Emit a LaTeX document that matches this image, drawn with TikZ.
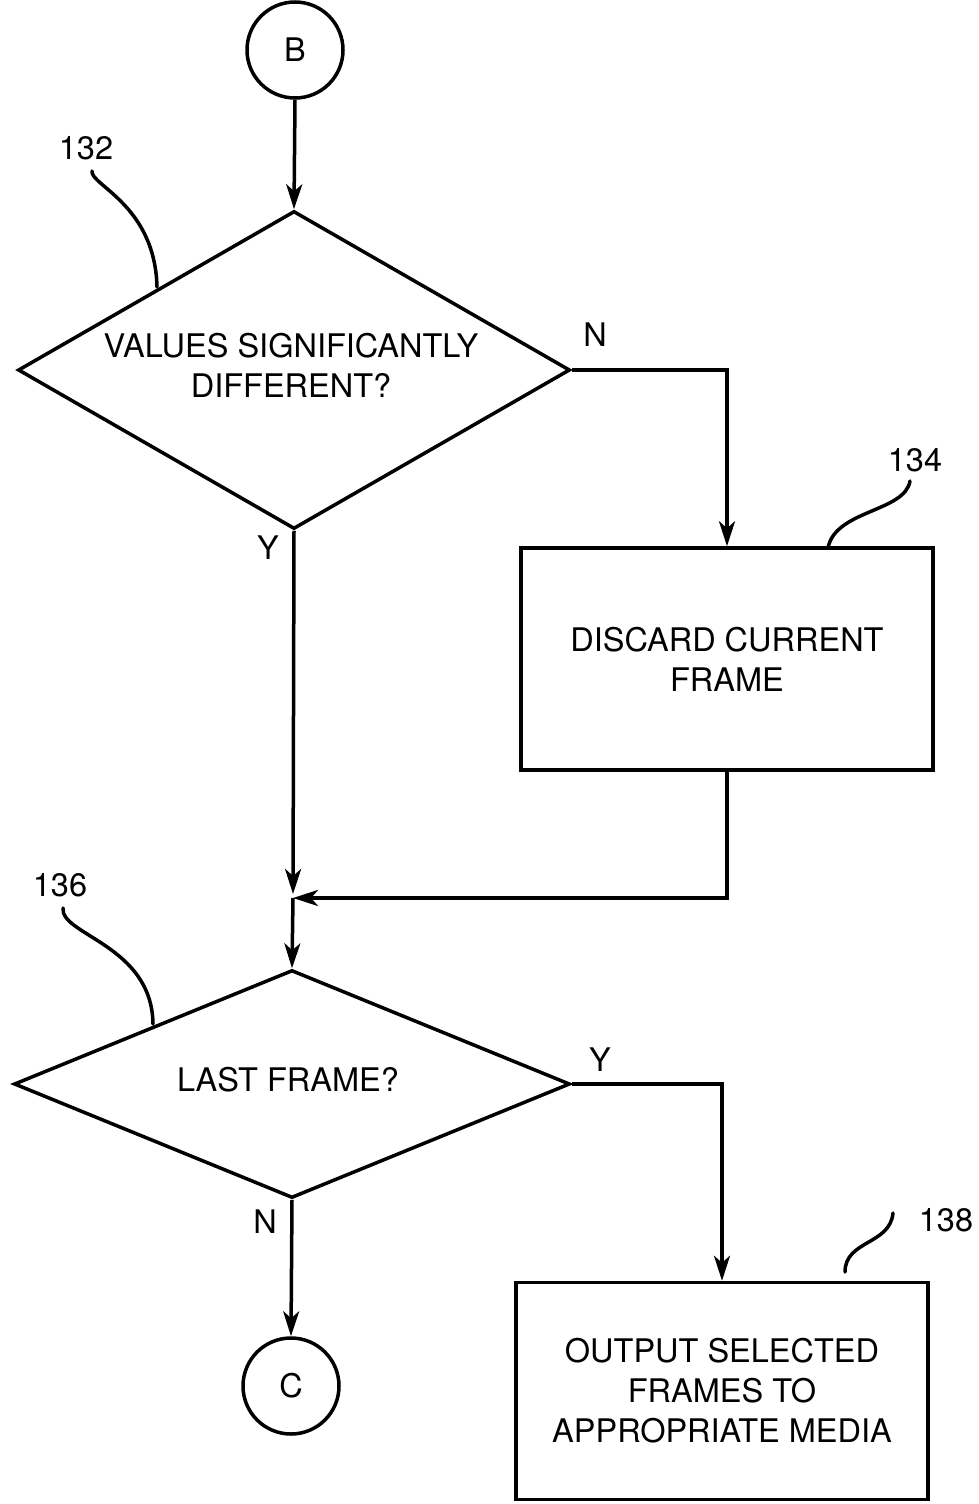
\documentclass[tikz,border=0pt]{standalone}
\usepackage{fontspec}
\setmainfont{TeX Gyre Heros}
\usetikzlibrary{shapes.geometric,arrows.meta}
\begin{document}
\begin{tikzpicture}[x=1pt,y=-1pt,
  every node/.style={font=\fontsize{32.5}{40}\selectfont},
  ln/.style={line width=3.5pt},
  arr/.style={ln,-{Stealth[length=25pt,width=16pt,inset=7pt]}},
  conn/.style={draw,circle,ln,minimum size=96pt,inner sep=0pt},
  dia/.style={draw,diamond,ln,inner sep=0pt,aspect=1},
  stepbox/.style={draw,rectangle,ln,inner sep=0pt,align=center},
  txt/.style={align=center,inner sep=0pt},
  callout/.style={line width=3.5pt,line cap=round}
]
\useasboundingbox (0,0) rectangle (979,1504);
% nodes
\node[conn] (B) at (295,50) {B};
\node[dia,minimum width=552pt,minimum height=318pt] (d1) at (294,370) {};
\node[txt] (t1) at (291,365) {VALUES SIGNIFICANTLY\\DIFFERENT?};
\node[stepbox,minimum width=412pt,minimum height=222pt] (b134) at (727,659) {DISCARD CURRENT\\FRAME};
\coordinate (j) at (293,898);
\node[dia,minimum width=556pt,minimum height=228pt] (d2) at (292,1084) {};
\node[txt] (t2) at (288,1080) {LAST FRAME?};
\node[stepbox,minimum width=412pt,minimum height=217pt] (b138) at (722,1391) {OUTPUT SELECTED\\FRAMES TO\\APPROPRIATE MEDIA};
\node[conn] (C) at (291,1386) {C};
% labels
\node[txt] (n1) at (595,335) {N};
\node[txt] (y1) at (268,548) {Y};
\node[txt] (y2) at (600,1060) {Y};
\node[txt] (n2) at (265,1222) {N};
\node[txt] (l132) at (86,148) {132};
\node[txt] (l134) at (915,460) {134};
\node[txt] (l136) at (60,885) {136};
\node[txt] (l138) at (946,1220) {138};
% connectors
\draw[arr] (B.south) -- (d1.north);
\draw[arr] (d1.east) -| (b134.north);
\draw[arr,shorten >=4pt] (d1.south) -- (j);
\draw[arr] (b134.south) |- (j);
\draw[arr] (j) -- (d2.north);
\draw[arr] (d2.east) -| (b138.north);
\draw[arr] (d2.south) -- (C.north);
% callouts
\coordinate (c132a) at (92,171);
\coordinate (c132b) at (157,287);
\draw[callout] (c132a) .. controls (90,185) and (155,205) .. (c132b);
\coordinate (c136a) at (63,908);
\coordinate (c136b) at (153,1024);
\draw[callout] (c136a) .. controls (60,935) and (152,945) .. (c136b);
\coordinate (c134a) at (910,481);
\coordinate (c134b) at (828,548);
\draw[callout] (c134a) .. controls (905,512) and (835,510) .. (c134b);
\coordinate (c138a) at (893,1213);
\coordinate (c138b) at (845,1272);
\draw[callout] (c138a) .. controls (890,1245) and (845,1240) .. (c138b);
\end{tikzpicture}
\end{document}
